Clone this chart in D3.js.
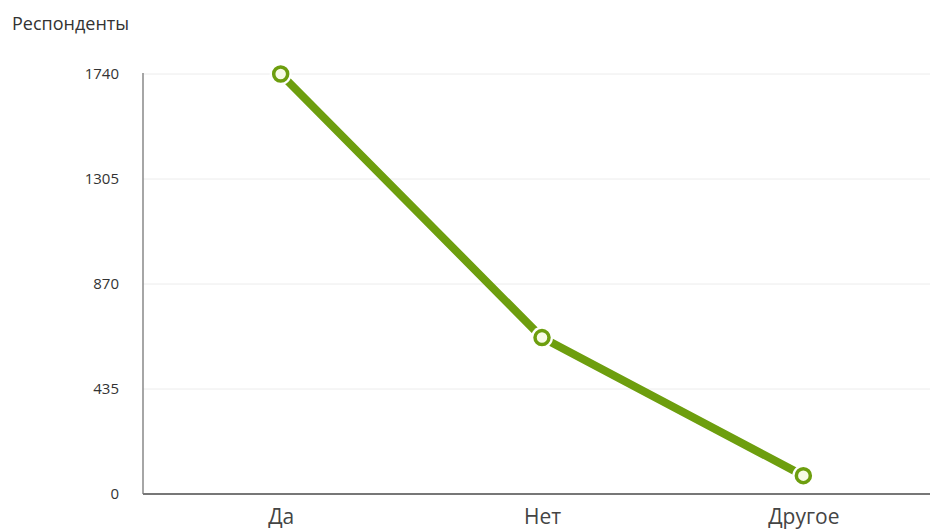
<!DOCTYPE html>
<html>
<head>
<meta charset="utf-8">
<script src="https://cdn.jsdelivr.net/npm/d3@7"></script>
<style>
  html, body { margin: 0; padding: 0; background: #fff; }
  svg { display: block; }
</style>
</head>
<body>
<svg id="chart" width="930" height="531"></svg>
<script>
const categories = ["Да", "Нет", "Другое"];
const values = [1740, 648, 76];
const yTicks = [0, 435, 870, 1305, 1740];
const yTitle = "Респонденты";

(function () {
const svg = d3.select("#chart");
const mLeft = 143, mRight = 930, mTop = 74, mBottom = 494;

const x = d3.scalePoint().domain(categories).range([150, 934]).padding(0.5);
const y = d3.scaleLinear().domain([0, 1740]).range([mBottom, mTop]);

// gridlines
svg.append("g")
  .selectAll("line")
  .data(yTicks.filter(d => d > 0))
  .join("line")
  .attr("x1", mLeft).attr("x2", mRight)
  .attr("y1", d => y(d)).attr("y2", d => y(d))
  .attr("stroke", "#ececec").attr("stroke-width", 1);

// y axis
const yAxis = svg.append("g")
  .attr("transform", `translate(${mLeft},0)`)
  .call(d3.axisLeft(y).tickValues(yTicks).tickSize(0).tickPadding(24).tickFormat(d3.format("d")));
yAxis.select(".domain").remove();
yAxis.selectAll("text")
  .attr("font-family", "'Open Sans', sans-serif")
  .attr("font-size", 15)
  .attr("dy", "0.3em")
  .attr("fill", "#333");

svg.append("line")
  .attr("x1", mLeft).attr("x2", mLeft)
  .attr("y1", mTop - 1).attr("y2", mBottom)
  .attr("stroke", "#888").attr("stroke-width", 1.5);

// x axis
const xAxis = svg.append("g")
  .attr("transform", `translate(0,${mBottom})`)
  .call(d3.axisBottom(x).tickSize(0).tickPadding(0));
xAxis.select(".domain").remove();
xAxis.selectAll("text")
  .attr("font-family", "'Open Sans', sans-serif")
  .attr("font-size", 21)
  .attr("dy", null)
  .attr("y", 30)
  .attr("fill", "#444");

svg.append("line")
  .attr("x1", mLeft).attr("x2", mRight)
  .attr("y1", mBottom).attr("y2", mBottom)
  .attr("stroke", "#777").attr("stroke-width", 2);

// title
svg.append("text")
  .attr("x", 12).attr("y", 30)
  .attr("font-family", "'Open Sans', sans-serif")
  .attr("font-size", 18)
  .attr("fill", "#333")
  .text(yTitle);

const data = categories.map((c, i) => ({ c, v: values[i] }));
const green = "#6d9e0e";

svg.append("path")
  .datum(data)
  .attr("fill", "none")
  .attr("stroke", green)
  .attr("stroke-width", 8)
  .attr("stroke-linejoin", "round")
  .attr("d", d3.line().x(d => x(d.c)).y(d => y(d.v)));

// halo
svg.append("g").selectAll("circle")
  .data(data).join("circle")
  .attr("cx", d => x(d.c)).attr("cy", d => y(d.v))
  .attr("r", 11)
  .attr("fill", "#fff");

svg.append("g").selectAll("circle")
  .data(data).join("circle")
  .attr("cx", d => x(d.c)).attr("cy", d => y(d.v))
  .attr("r", 7)
  .attr("fill", "#f7fbe6")
  .attr("stroke", green)
  .attr("stroke-width", 3.5);
})();
</script>
</body>
</html>
